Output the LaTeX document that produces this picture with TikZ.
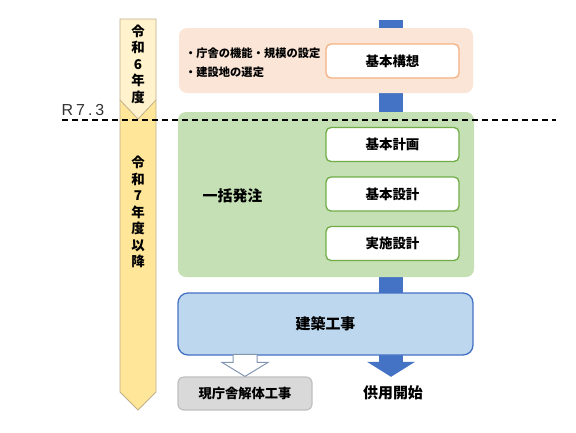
\documentclass[tikz,border=0pt]{standalone}
\usepackage{fontspec}
\setmainfont{Noto Sans CJK JP}
\newfontfamily\latinfont[LetterSpace=19]{Liberation Sans}
\usetikzlibrary{positioning}
\usetikzlibrary{arrows.meta}
\usepackage{xcolor}
\definecolor{mypeach}{HTML}{FBE5D6}
\definecolor{myorange}{HTML}{F4B183}
\definecolor{mygreen}{HTML}{C5E0B4}
\definecolor{mydarkgreen}{HTML}{70AD47}
\definecolor{mylightblue}{HTML}{BDD7EE}
\definecolor{myblue}{HTML}{4472C4}
\definecolor{mygray}{HTML}{D9D9D9}
\definecolor{mydarkgray}{HTML}{BFBFBF}
\definecolor{mycream}{HTML}{FFF2CC}
\definecolor{myyellow}{HTML}{FFE699}
\definecolor{mybrown}{HTML}{BFB08A}
\definecolor{myslate}{HTML}{8497B0}

\begin{document}
\begin{tikzpicture}
[x=1bp, y=-1bp, line join=miter,
 area/.style={rounded corners=8bp, minimum width=#1},
 stepbox/.style={draw=#1, fill=white, line width=1.3bp, rounded corners=5bp,
   minimum width=133bp, minimum height=34bp,
   font=\fontsize{13.5}{15}\selectfont\bfseries},
 yearbox/.style={draw=mybrown, line width=0.8bp},
 yeartext/.style={align=center, font=\fontsize{13.5}{16.6}\selectfont\bfseries},
 bigtext/.style={font=\fontsize{15}{16}\selectfont\bfseries}]

\useasboundingbox (0,0) rectangle (576,432);

% Year arrows on the left:
\draw[yearbox, fill=myyellow] (120,100) -- (156,100) -- (156,392) -- (138,410) -- (120,392) -- cycle;
\draw[yearbox, fill=mycream]  (120,19) -- (156,19) -- (156,100) -- (138,119) -- (120,100) -- cycle;
\node[yeartext] (r6) at (138,64) {令\\和\\6\\年\\度};
\node[yeartext] (r7) at (138,212) {令\\和\\7\\年\\度\\以\\降};

% Main flow (drawn behind the boxes):
\node[bigtext, minimum height=32bp, inner sep=0pt] (kaishi) at (393,393) {供用開始};
\coordinate (top) at (391,20);
\draw[myblue, line width=24bp, -{Triangle[width=48bp, length=15bp, line width=0pt]}]
  (top) -- (top |- kaishi.north);

% Phase areas:
\node[area=294bp, fill=mypeach, minimum height=65bp] (kousouarea) at (326,60.5) {};
\node[area=296bp, fill=mygreen, minimum height=165bp] (hacchu) at (326,194.5) {};
\node[area=295bp, draw=myblue, line width=1.3bp, fill=mylightblue, rounded corners=10bp,
  minimum height=62bp, bigtext] (kenchiku) at (325.5,324) {建築工事};

% Step boxes:
\node[stepbox=myorange] (kousou) at (392.5,61) {基本構想};
\node[stepbox=mydarkgreen] (keikaku) at (392.5,144.5) {基本計画};
\node[stepbox=mydarkgreen] (kihon) at (392.5,194) {基本設計};
\node[stepbox=mydarkgreen] (jisshi) at (392.5,243.5) {実施設計};

% Texts inside the areas:
\node[anchor=west, inner sep=0pt, font=\fontsize{11.3}{13}\selectfont\bfseries] (kinou) at (185,53) {・庁舎の機能・規模の設定};
\node[anchor=west, inner sep=0pt, font=\fontsize{11.3}{13}\selectfont\bfseries] (kensetsu) at (185,72) {・建設地の選定};
\node[bigtext] (ikkatsu) at (232.5,196) {一括発注};

% Demolition:
\node[draw=mydarkgray, fill=mygray, line width=1.2bp, rounded corners=6bp,
  minimum width=134bp, minimum height=33bp, font=\fontsize{13.3}{15}\selectfont\bfseries]
  (kaitai) at (245,393.5) {現庁舎解体工事};
\draw[draw=myslate, fill=white, line width=1bp] (kaitai.north) -- ++(-23,-14) -- ++(11,0)
  -- ++(0,-8) -- ++(24,0) -- ++(0,8) -- ++(11,0) -- cycle;

% Date line:
\coordinate (dashL) at (62,120);
\coordinate (dashR) at (556,120);
\draw[line width=1.3bp, dash pattern=on 6bp off 4bp] (dashL) -- (dashR);
\node[font=\latinfont\fontsize{16}{18}\selectfont, text=black!80] (r73) at (83,110.5) {R7.3};

\end{tikzpicture}
\end{document}
